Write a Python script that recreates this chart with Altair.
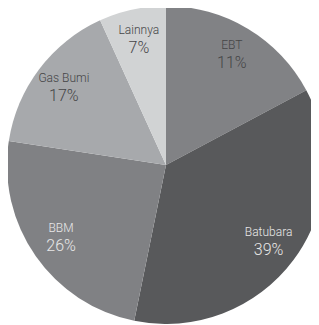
import altair as alt
import pandas as pd

categories = ["EBT", "Batubara", "BBM", "Gas Bumi", "Lainnya"]
labels = ["11%", "39%", "26%", "17%", "7%"]
# slice sizes as drawn in the picture (angular share)
shares = [17.2, 36.0, 24.2, 15.8, 6.8]
order = [1, 2, 3, 4, 5]

df = pd.DataFrame({"cat": categories, "pct": labels, "share": shares, "ord": order})

slice_colors = ["#818285", "#58595b", "#808184", "#a7a9ac", "#d1d3d4"]
text_colors = ["#454547", "#e8e8e8", "#e8e8e8", "#454547", "#454547"]

CX, CY = 158, 157

base = alt.Chart(df).encode(
    theta=alt.Theta("share:Q", stack=True),
    order=alt.Order("ord:Q"),
    x=alt.value(CX),
    y=alt.value(CY),
)

pie = base.mark_arc(radius=159, stroke=None).encode(
    color=alt.Color("cat:N", scale=alt.Scale(domain=categories, range=slice_colors), legend=None)
)

tcol = alt.Color("cat:N", scale=alt.Scale(domain=categories, range=text_colors), legend=None)

names = base.mark_text(radius=128, dy=-10, font="Roboto", fontWeight=300, fontSize=12).encode(
    text="cat:N", color=tcol
)
pcts = base.mark_text(radius=128, dy=8, font="Roboto", fontWeight=300, fontSize=16).encode(
    text="pct:N", color=tcol
)

chart = alt.layer(pie, names, pcts).resolve_scale(color="independent").properties(
    width=303, height=316, padding=0, autosize=alt.AutoSizeParams(type="none")
).configure_view(stroke=None)

chart.save("out.html", embed_options={"renderer": "svg", "actions": False})
